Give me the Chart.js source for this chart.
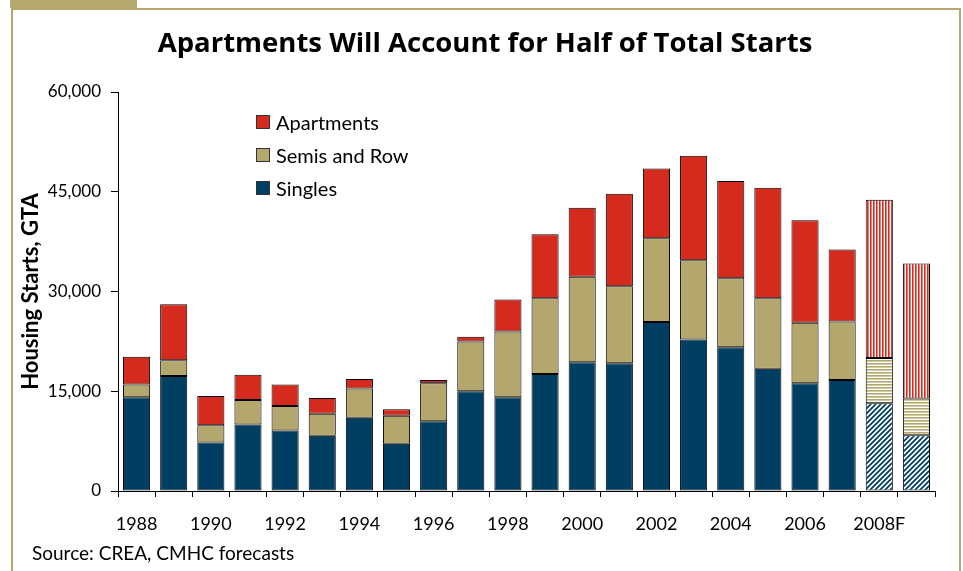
<!DOCTYPE html>
<html>
<head>
<meta charset="utf-8">
<script src="https://cdn.jsdelivr.net/npm/chart.js@4.4.1/dist/chart.umd.min.js"></script>
<style>
  html, body { margin: 0; padding: 0; background: #fff; }
  body { width: 963px; height: 571px; position: relative; overflow: hidden; font-family: Lato, "Open Sans", sans-serif; }
  #wrap { position: absolute; left: 0; top: 0; width: 963px; height: 571px; }
  .frame { position: absolute; background: #B5A76E; }
  #title { position: absolute; left: 0; width: 970px; top: 23px; text-align: center; font-family: "Open Sans", sans-serif; font-weight: bold; font-size: 27.5px; color: #000; white-space: nowrap; }
  #source { position: absolute; left: 32px; top: 541px; font-size: 19px; color: #000; white-space: nowrap; }
  #legend { position: absolute; left: 256px; top: 105px; font-size: 20px; color: #000; }
  .li { height: 33px; display: flex; align-items: center; }
  .sw { width: 14px; height: 14px; border: 1px solid #333; margin-right: 6px; box-sizing: border-box; }
</style>
</head>
<body>
<div id="wrap"><canvas id="c" width="963" height="571"></canvas></div>
<div class="frame" style="left:10px; top:0; width:127px; height:8px;"></div>
<div class="frame" style="left:11px; top:0; width:2px; height:571px;"></div>
<div class="frame" style="left:11px; top:8px; width:950px; height:2px;"></div>
<div class="frame" style="left:959px; top:8px; width:2px; height:563px;"></div>
<div id="title">Apartments Will Account for Half of Total Starts</div>
<div id="source">Source: CREA, CMHC forecasts</div>
<div id="legend"></div>
<script>
// ---- data ----
const categories = ['1988','1989','1990','1991','1992','1993','1994','1995','1996','1997','1998','1999',
                    '2000','2001','2002','2003','2004','2005','2006','2007','2008F','2009F'];
const tickLabels = ['1988','','1990','','1992','','1994','','1996','','1998','',
                    '2000','','2002','','2004','','2006','','2008F',''];
const singles    = [14100,17300,7300,10000,9100,8300,11000,7100,10500,15000,14100,17600,
                    19350,19200,25400,22800,21600,18400,16200,16700,13200,8400];
const semisRow   = [1900,2350,2600,3700,3700,3300,4400,4200,5700,7500,9900,11400,
                    12850,11600,12600,11900,10400,10600,9100,8800,6800,5500];
const apartments = [4200,8450,4400,3800,3200,2400,1450,1000,500,700,4800,9600,
                    10400,13900,10500,15700,14600,16600,15400,10800,23800,20300];
const yTicks = [0, 15000, 30000, 45000, 60000];
const seriesNames = ['Singles', 'Semis and Row', 'Apartments'];

// ---- styles ----
const colors = { singles: '#003F62', semis: '#B3A76D', apts: '#D52B1E' };

function makePattern(kind, color) {
  const c = document.createElement('canvas');
  const s = kind === 'diag' ? 5 : 3;
  c.width = s; c.height = s;
  const x = c.getContext('2d');
  x.fillStyle = '#fff'; x.fillRect(0, 0, s, s);
  x.fillStyle = color; x.strokeStyle = color;
  if (kind === 'vert') { x.fillRect(0, 0, 1.6, s); }
  else if (kind === 'horiz') { x.fillRect(0, 0, s, 1.6); }
  else {
    x.lineWidth = 1.8;
    x.beginPath();
    x.moveTo(-1, s + 1); x.lineTo(s + 1, -1);
    x.moveTo(-1, 1); x.lineTo(1, -1);
    x.moveTo(s - 1, s + 1); x.lineTo(s + 1, s - 1);
    x.stroke();
  }
  return document.getElementById('c').getContext('2d').createPattern(c, 'repeat');
}
const isForecast = i => categories[i].endsWith('F');
const pats = {
  singles: makePattern('diag', colors.singles),
  semis: makePattern('horiz', colors.semis),
  apts: makePattern('vert', colors.apts)
};
function fill(key) { return ctx => isForecast(ctx.dataIndex) ? pats[key] : colors[key]; }

const common = { borderColor: '#000', borderWidth: 1, borderSkipped: false,
                 barPercentage: 0.73, categoryPercentage: 1.0 };

// legend (HTML)
const legendItems = [[seriesNames[2], colors.apts], [seriesNames[1], colors.semis], [seriesNames[0], colors.singles]];
document.getElementById('legend').innerHTML = legendItems.map(([n, c]) =>
  `<div class="li"><div class="sw" style="background:${c}"></div><span>${n}</span></div>`).join('');

const font = { family: 'Lato, "Open Sans", sans-serif' };

new Chart(document.getElementById('c'), {
  type: 'bar',
  data: {
    labels: categories,
    datasets: [
      Object.assign({ label: seriesNames[0], data: singles, backgroundColor: fill('singles') }, common),
      Object.assign({ label: seriesNames[1], data: semisRow, backgroundColor: fill('semis') }, common),
      Object.assign({ label: seriesNames[2], data: apartments, backgroundColor: fill('apts') }, common)
    ]
  },
  options: {
    responsive: false,
    animation: false,
    events: [],
    layout: { padding: { left: 0, top: 92, right: 28, bottom: 0 } },
    plugins: { legend: { display: false }, title: { display: false }, tooltip: { enabled: false } },
    scales: {
      x: {
        stacked: true,
        offset: true,
        grid: { display: true, drawOnChartArea: false, offset: true, color: '#000', tickLength: 6, tickColor: '#000' },
        border: { display: true, color: '#000', width: 1 },
        ticks: {
          autoSkip: false, maxRotation: 0, padding: 16, color: '#000',
          font: Object.assign({ size: 18 }, font),
          callback: (v, i) => tickLabels[i]
        },
        afterFit: s => { s.height = 80; }
      },
      y: {
        stacked: true,
        min: 0, max: 60000,
        afterBuildTicks: s => { s.ticks = yTicks.map(v => ({ value: v })); },
        grid: { display: true, drawOnChartArea: false, color: '#000', tickLength: 7, tickColor: '#000' },
        border: { display: true, color: '#000', width: 1 },
        title: { display: true, text: 'Housing Starts, GTA', color: '#000', padding: { top: 18, bottom: 4 },
                 font: Object.assign({ size: 22, weight: 'bold' }, font) },
        ticks: {
          padding: 10, color: '#000',
          font: Object.assign({ size: 17 }, font),
          callback: v => v.toLocaleString('en-US')
        },
        afterFit: s => { s.width = 118; }
      }
    }
  }
});
</script>
</body>
</html>
